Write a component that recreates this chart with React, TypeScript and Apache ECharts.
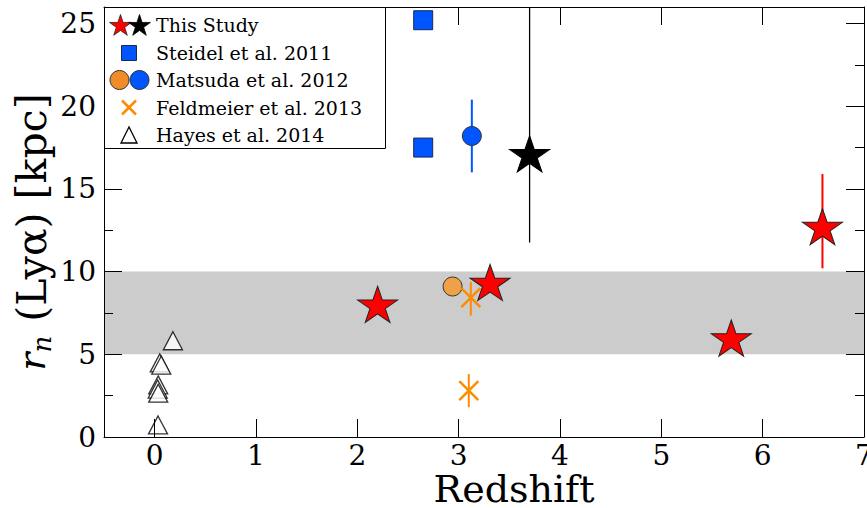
import React, { useEffect, useRef } from 'react';
import * as echarts from 'echarts';

// ---- axes ----
const X_RANGE = [-0.5, 7];
const Y_RANGE = [0, 26];
const Y_MAJOR = 5;
const Y_MINOR = 2.5;
const BAND = [5, 10];

// ---- This Study ----
const studyRedZ = [2.2, 3.31, 5.69, 6.59];
const studyRedR = [7.9, 9.22, 5.86, 12.6];
const studyRedLo = [null, null, null, 10.2];
const studyRedHi = [null, null, null, 15.9];
const studyBlackZ = [3.7];
const studyBlackR = [17.0];
const studyBlackLo = [11.76];
const studyBlackHi = [30];

// ---- Steidel et al. 2011 ----
const steidelZ = [2.65, 2.65];
const steidelR = [25.2, 17.5];

// ---- Matsuda et al. 2012 ----
const matsudaOrangeZ = [2.94];
const matsudaOrangeR = [9.1];
const matsudaBlueZ = [3.13];
const matsudaBlueR = [18.2];
const matsudaBlueLo = [16.0];
const matsudaBlueHi = [20.4];

// ---- Feldmeier et al. 2013 ----
const feldZ = [3.12, 3.1];
const feldR = [8.43, 2.8];
const feldLo = [7.34, 1.8];
const feldHi = [9.38, 3.81];

// ---- Hayes et al. 2014 ----
const hayesZ = [0.18, 0.05, 0.065, 0.035, 0.03, 0.035, 0.033];
const hayesR = [5.82, 4.48, 4.35, 3.15, 2.9, 2.65, 0.73];

const LEGEND_LABELS = [
  'This Study',
  'Steidel et al. 2011',
  'Matsuda et al. 2012',
  'Feldmeier et al. 2013',
  'Hayes et al. 2014',
];

const FONT = '"DejaVu Serif", serif';
const RED = '#ff0000';
const BLUE = '#0055ff';
const ORANGE = '#f08c28';
const DORANGE = '#ff8c00';

const W = 867;
const H = 508;

function starPoints(cx: number, cy: number, R: number) {
  const pts: number[][] = [];
  for (let k = 0; k < 10; k++) {
    const r = k % 2 === 0 ? R : R * 0.381966;
    const a = ((-90 + 36 * k) * Math.PI) / 180;
    pts.push([cx + r * Math.cos(a), cy + r * Math.sin(a)]);
  }
  return pts;
}
const STAR_PATH =
  'path://M' +
  starPoints(0, 0, 20)
    .map((p) => p[0].toFixed(3) + ',' + p[1].toFixed(3))
    .join('L') +
  'Z';
const X_PATH = 'path://M0,0L19,19M19,0L0,19';

function pairs(xs: number[], ys: number[]) {
  return xs.map((x, i) => [x, ys[i]]);
}

function errorSeries(xs: number[], lo: (number | null)[], hi: (number | null)[], color: string, width: number) {
  const data: number[][] = [];
  xs.forEach((x, i) => {
    if (lo[i] != null && hi[i] != null) data.push([x, lo[i] as number, hi[i] as number]);
  });
  return {
    type: 'custom',
    z: 3,
    silent: true,
    data,
    encode: { x: 0, y: [1, 2] },
    renderItem: (params: any, api: any) => {
      const cs = params.coordSys;
      const p1 = api.coord([api.value(0), api.value(1)]);
      const p2 = api.coord([api.value(0), api.value(2)]);
      const top = cs.y;
      const bot = cs.y + cs.height;
      const y1 = Math.min(Math.max(p1[1], top), bot);
      const y2 = Math.min(Math.max(p2[1], top), bot);
      return {
        type: 'line',
        shape: { x1: p1[0], y1, x2: p2[0], y2 },
        style: { stroke: color, lineWidth: width },
      };
    },
  };
}

function legendGraphics() {
  const rows = [25, 53, 80, 107.5, 135];
  const mx = 129;
  const els: any[] = [];
  els.push({
    type: 'rect',
    shape: { x: 104.5, y: 7.5, width: 281, height: 141 },
    style: { fill: '#ffffff', stroke: '#000000', lineWidth: 1 },
    z: 100,
  });
  els.push({
    type: 'polygon',
    shape: { points: starPoints(120.5, rows[0] + 1, 11.5) },
    style: { fill: RED, stroke: '#222', lineWidth: 0.8 },
    z: 101,
  });
  els.push({
    type: 'polygon',
    shape: { points: starPoints(139.5, rows[0] + 1, 11.5) },
    style: { fill: '#000', stroke: '#000', lineWidth: 0.8 },
    z: 101,
  });
  els.push({
    type: 'rect',
    shape: { x: mx - 7.5, y: rows[1] - 7.5, width: 15, height: 15 },
    style: { fill: BLUE, stroke: '#1a2a55', lineWidth: 1 },
    z: 101,
  });
  els.push({
    type: 'circle',
    shape: { cx: 119.5, cy: rows[2], r: 9.5 },
    style: { fill: ORANGE, stroke: '#333', lineWidth: 1 },
    z: 101,
  });
  els.push({
    type: 'circle',
    shape: { cx: 139.5, cy: rows[2], r: 9.5 },
    style: { fill: BLUE, stroke: '#333', lineWidth: 1 },
    z: 101,
  });
  els.push({
    type: 'line',
    shape: { x1: mx - 7, y1: rows[3] - 7, x2: mx + 7, y2: rows[3] + 7 },
    style: { stroke: DORANGE, lineWidth: 2.5 },
    z: 101,
  });
  els.push({
    type: 'line',
    shape: { x1: mx + 7, y1: rows[3] - 7, x2: mx - 7, y2: rows[3] + 7 },
    style: { stroke: DORANGE, lineWidth: 2.5 },
    z: 101,
  });
  els.push({
    type: 'polygon',
    shape: { points: [[mx, rows[4] - 8], [mx - 8, rows[4] + 8], [mx + 8, rows[4] + 8]] },
    style: { fill: '#fff', stroke: '#000', lineWidth: 1.3 },
    z: 101,
  });
  LEGEND_LABELS.forEach((t, i) => {
    els.push({
      type: 'text',
      x: 156,
      y: rows[i],
      style: { text: t, font: '19px ' + FONT, fill: '#000', verticalAlign: 'middle', align: 'left' },
      z: 101,
    });
  });
  return els;
}

export default function App() {
  const ref = useRef<HTMLDivElement>(null);
  useEffect(() => {
    if (!ref.current) return;
    const chart = echarts.init(ref.current, undefined, { renderer: 'svg', width: W, height: H });
    const axisLine = { show: true, onZero: false, lineStyle: { color: '#000', width: 1 } };
    const noLine = { show: false, onZero: false };
    const tick = (len: number) => ({ show: true, inside: true, length: len, lineStyle: { color: '#000', width: 1 } });
    const labelFmt = (v: number) => (Math.abs(v - Math.round(v)) < 1e-9 ? String(Math.round(v)) : '');
    const yFmt = (v: number) => (Math.abs(v % Y_MAJOR) < 1e-9 ? String(v) : '');
    const option: any = {
      animation: false,
      backgroundColor: '#ffffff',
      grid: { left: 104, right: 3, top: 7, bottom: 71, containLabel: false, outerBoundsMode: 'none' },
      xAxis: [
        {
          type: 'value',
          min: X_RANGE[0],
          max: X_RANGE[1],
          splitNumber: 8,
          z: 10,
          axisLine,
          axisTick: tick(18),
          axisLabel: {
            show: true,
            formatter: labelFmt,
            showMinLabel: false,
            hideOverlap: false,
            fontSize: 28,
            fontFamily: FONT,
            color: '#000',
            margin: 4,
          },
          splitLine: { show: false },
        },
        {
          type: 'value',
          position: 'top',
          min: X_RANGE[0],
          max: X_RANGE[1],
          splitNumber: 8,
          z: 10,
          axisLine,
          axisTick: tick(18),
          axisLabel: { show: false },
          splitLine: { show: false },
        },
      ],
      yAxis: [
        {
          type: 'value',
          position: 'left',
          min: Y_RANGE[0],
          max: Y_RANGE[1],
          interval: Y_MAJOR,
          z: 10,
          axisLine,
          axisTick: tick(18),
          axisLabel: {
            show: true,
            formatter: yFmt,
            showMaxLabel: false,
            fontSize: 28,
            fontFamily: FONT,
            color: '#000',
            margin: 8,
          },
          splitLine: { show: false },
        },
        {
          type: 'value',
          position: 'right',
          min: Y_RANGE[0],
          max: Y_RANGE[1],
          interval: Y_MAJOR,
          z: 10,
          axisLine,
          axisTick: tick(18),
          axisLabel: { show: false },
          splitLine: { show: false },
        },
        {
          type: 'value',
          position: 'left',
          min: Y_RANGE[0],
          max: Y_RANGE[1],
          interval: Y_MINOR,
          z: 10,
          axisLine: noLine,
          axisTick: tick(9),
          axisLabel: { show: false },
          splitLine: { show: false },
        },
        {
          type: 'value',
          position: 'right',
          min: Y_RANGE[0],
          max: Y_RANGE[1],
          interval: Y_MINOR,
          z: 10,
          axisLine: noLine,
          axisTick: tick(9),
          axisLabel: { show: false },
          splitLine: { show: false },
        },
      ],
      series: [
        {
          type: 'line',
          data: [],
          z: 1,
          silent: true,
          markArea: {
            silent: true,
            itemStyle: { color: '#cccccc', opacity: 1 },
            data: [[{ xAxis: X_RANGE[0], yAxis: BAND[0] }, { xAxis: X_RANGE[1], yAxis: BAND[1] }]],
          },
        },
        errorSeries(studyBlackZ, studyBlackLo, studyBlackHi, '#000', 1.3),
        errorSeries(studyRedZ, studyRedLo, studyRedHi, RED, 2),
        errorSeries(matsudaBlueZ, matsudaBlueLo, matsudaBlueHi, BLUE, 2),
        errorSeries(feldZ, feldLo, feldHi, DORANGE, 2),
        {
          type: 'scatter',
          z: 4,
          data: pairs(hayesZ, hayesR),
          symbol: 'triangle',
          symbolSize: [19, 18],
          itemStyle: { color: '#ffffff', borderColor: '#000', borderWidth: 1.3, opacity: 0.8 },
        },
        {
          type: 'scatter',
          z: 4,
          data: pairs(steidelZ, steidelR),
          symbol: 'rect',
          symbolSize: 19,
          itemStyle: { color: BLUE, borderColor: '#1a2a55', borderWidth: 1, opacity: 1 },
        },
        {
          type: 'scatter',
          z: 4,
          data: pairs(matsudaOrangeZ, matsudaOrangeR),
          symbol: 'circle',
          symbolSize: 19,
          itemStyle: { color: '#efa147', borderColor: '#333', borderWidth: 1, opacity: 1 },
        },
        {
          type: 'scatter',
          z: 4,
          data: pairs(matsudaBlueZ, matsudaBlueR),
          symbol: 'circle',
          symbolSize: 19,
          itemStyle: { color: BLUE, borderColor: '#333', borderWidth: 1, opacity: 1 },
        },
        {
          type: 'scatter',
          z: 5,
          data: pairs(feldZ, feldR),
          symbol: X_PATH,
          symbolSize: 19,
          itemStyle: { color: 'none', borderColor: DORANGE, borderWidth: 2.5, opacity: 1 },
        },
        {
          type: 'scatter',
          z: 6,
          data: pairs(studyBlackZ, studyBlackR),
          symbol: STAR_PATH,
          symbolKeepAspect: true,
          symbolSize: [40, 38],
          symbolOffset: [0, -2],
          itemStyle: { color: '#000', borderColor: '#000', borderWidth: 1, opacity: 1 },
        },
        {
          type: 'scatter',
          z: 6,
          data: pairs(studyRedZ, studyRedR),
          symbol: STAR_PATH,
          symbolKeepAspect: true,
          symbolSize: [40, 38],
          symbolOffset: [0, -2],
          itemStyle: { color: RED, borderColor: '#222', borderWidth: 1, opacity: 1 },
        },
      ],
      graphic: [
        ...legendGraphics(),
        {
          type: 'text',
          x: 514,
          y: 489,
          style: { text: 'Redshift', font: '38px ' + FONT, fill: '#000', align: 'center', verticalAlign: 'middle' },
          z: 50,
        },
        {
          type: 'text',
          x: 32,
          y: 232,
          rotation: Math.PI / 2,
          style: {
            text: '{i|r}{s|n}{g|  }{t|(Lyα) [kpc]}',
            align: 'center',
            verticalAlign: 'middle',
            rich: {
              i: { font: 'italic 38px ' + FONT, fill: '#000', lineHeight: 46, verticalAlign: 'middle' },
              s: { font: 'italic 26px ' + FONT, fill: '#000', lineHeight: 46, verticalAlign: 'bottom' },
              g: { font: '22px ' + FONT, fill: '#000', lineHeight: 46, verticalAlign: 'middle' },
              t: { font: '41px ' + FONT, fill: '#000', lineHeight: 46, verticalAlign: 'middle' },
            },
          },
          z: 50,
        },
      ],
    };
    chart.setOption(option);
    return () => chart.dispose();
  }, []);
  return (
    <div
      ref={ref}
      style={{ position: 'fixed', left: 0, top: 0, width: W, height: H, background: '#fff' }}
    />
  );
}
